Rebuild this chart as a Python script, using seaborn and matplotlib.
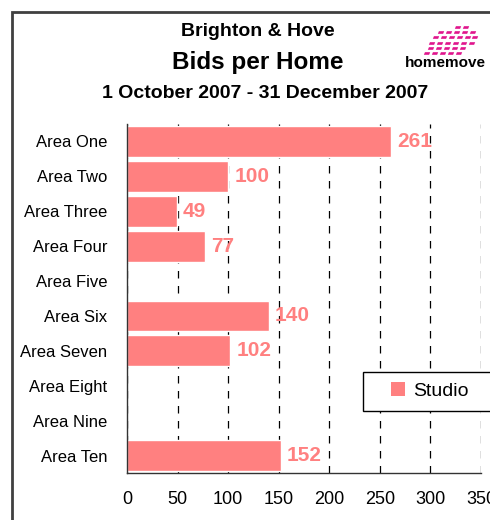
import numpy as np
import pandas as pd
import matplotlib
matplotlib.use('Agg')
import matplotlib.pyplot as plt
import seaborn as sns
from matplotlib.patches import Patch, Rectangle

# data
areas = ['Area One', 'Area Two', 'Area Three', 'Area Four', 'Area Five',
         'Area Six', 'Area Seven', 'Area Eight', 'Area Nine', 'Area Ten']
bids = [261, 100, 49, 77, np.nan, 140, 102, np.nan, np.nan, 152]
xticks = [0, 50, 100, 150, 200, 250, 300, 350]
series_name = 'Studio'

bar_color = '#FF8080'

sns.set_style('white')
plt.rcParams['font.family'] = ['Liberation Sans', 'DejaVu Sans']
plt.rcParams['text.color'] = 'black'
plt.rcParams['xtick.color'] = 'black'
plt.rcParams['ytick.color'] = 'black'

df = pd.DataFrame({'area': areas, 'bids': bids})

fig = plt.figure(figsize=(4.9, 5.2), dpi=100)
ax = fig.add_axes([127 / 490, 1 - 473 / 520, 354 / 490, 349 / 520])

sns.barplot(data=df, y='area', x='bids', order=areas, color=bar_color,
            saturation=1, width=0.88, orient='h', ax=ax)

for i, v in enumerate(bids):
    if not np.isnan(v):
        ax.text(v + 6, i, f'{int(v)}', va='center', ha='left',
                color=bar_color, fontsize=15, fontweight='bold')

ax.set_xlim(0, 350)
ax.set_ylim(len(areas) - 0.5, -0.5)
ax.set_xticks(xticks)
ax.set_xticklabels([str(t) for t in xticks], fontsize=13)
ax.set_xlabel('')
ax.set_ylabel('')
ax.tick_params(axis='y', which='major', length=0, labelsize=12, pad=14)
ax.set_yticks(np.arange(len(areas) + 1) - 0.5, minor=True)
ax.tick_params(axis='y', which='minor', length=6, width=1, color='#333333',
               direction='out')
ax.tick_params(axis='x', which='major', length=5, width=1, color='#333333',
               direction='out', pad=8)

ax.xaxis.grid(True, linestyle=(0, (6, 6)), color='black', linewidth=0.9)
ax.set_axisbelow(True)
for side in ['top', 'right']:
    ax.spines[side].set_visible(False)
for side in ['left', 'bottom']:
    ax.spines[side].set_color('#333333')
    ax.spines[side].set_linewidth(1)

# titles
fig.text(258 / 490, 1 - 32 / 520, 'Brighton & Hove', ha='center', va='center',
         fontsize=14, fontweight='bold')
fig.text(258 / 490, 1 - 63 / 520, 'Bids per Home', ha='center', va='center',
         fontsize=17.5, fontweight='bold')
fig.text(265 / 490, 1 - 93 / 520, '1 October 2007 - 31 December 2007',
         ha='center', va='center', fontsize=14, fontweight='bold')

# logo (approximate): magenta dashes forming a roof, word below
fig.text(445 / 490, 1 - 63 / 520, 'homemove', ha='center', va='center',
         fontsize=11, fontweight='heavy', color='black')
lax = fig.add_axes([418 / 490, 1 - 56 / 520, 72 / 490, 32 / 520])
dash = [(-1, -0.5), (1, -0.5), (1.4, 0.5), (-0.6, 0.5)]
row_counts = [5, 5, 6, 6, 5, 2]
row_starts = [0.6, 1.1, 1.2, 1.7, 2.4, 4.6]
for row, (n, x0) in enumerate(zip(row_counts, row_starts)):
    lax.scatter(x0 + np.arange(n) * 1.05, np.full(n, row), marker=dash, s=28,
                color='#E0148C', linewidths=0)
lax.set_xlim(-0.5, 9)
lax.set_ylim(-0.6, 5.6)
lax.axis('off')

# legend with its own frame (the box runs past the right edge)
fig.patches.append(Rectangle((363 / 490, 1 - 411 / 520), 140 / 490, 39 / 520,
                             transform=fig.transFigure, fill=True,
                             facecolor='white', edgecolor='black', linewidth=1,
                             zorder=5))
leg = fig.legend(handles=[Patch(facecolor=bar_color, edgecolor='none', label=series_name)],
                 loc='center left', bbox_to_anchor=(391 / 490, 1 - 391 / 520),
                 fontsize=14, frameon=False, borderaxespad=0, borderpad=0,
                 handlelength=0.7, handleheight=0.7, handletextpad=0.45)
leg.set_zorder(6)

# outer border of the chart area
fig.patches.append(Rectangle((12 / 490, -0.1), 1.2, 1 - 12 / 520 + 0.1,
                             transform=fig.transFigure, fill=False,
                             edgecolor='#404040', linewidth=2))

fig.savefig('out.png', dpi=100)
